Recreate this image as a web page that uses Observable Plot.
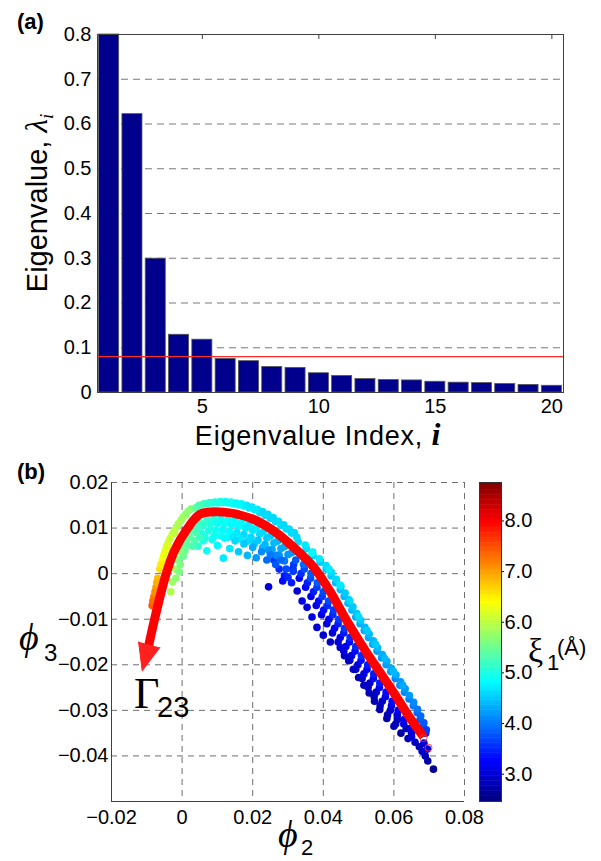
<!DOCTYPE html>
<html>
<head>
<meta charset="utf-8">
<script src="https://cdn.jsdelivr.net/npm/d3@7"></script>
<script src="https://cdn.jsdelivr.net/npm/@observablehq/plot@0.6"></script>
<style>
  html, body { margin: 0; padding: 0; background: #fff; }
  #wrap { position: relative; width: 601px; height: 861px; overflow: hidden; font-family: 'Liberation Sans', Arial, sans-serif; }
  #wrap > svg, #wrap > figure { position: absolute; margin: 0; }
</style>
</head>
<body>
<div id="wrap"></div>
<script>
// ---------- Panel (a): eigenvalue spectrum ----------
const eigIndex = [1, 2, 3, 4, 5, 6, 7, 8, 9, 10, 11, 12, 13, 14, 15, 16, 17, 18, 19, 20];
const eigValue = [0.800, 0.622, 0.299, 0.129, 0.118, 0.075, 0.070, 0.057, 0.055, 0.043,
                  0.037, 0.030, 0.028, 0.027, 0.024, 0.022, 0.021, 0.019, 0.017, 0.015];
const eigCutoff = [0.08];
const eigYTicks = [0, 0.1, 0.2, 0.3, 0.4, 0.5, 0.6, 0.7, 0.8];
const eigYTickLabels = ["0", "0.1", "0.2", "0.3", "0.4", "0.5", "0.6", "0.7", "0.8"];
const eigGrid = [0.1, 0.2, 0.3, 0.4, 0.5, 0.6, 0.7];
const eigXTicks = [5, 10, 15, 20];

// ---------- Panel (b): diffusion-map coordinates ----------
const phi2Ticks = [-0.02, 0, 0.02, 0.04, 0.06, 0.08];
const phi2TickLabels = ["\u22120.02", "0", "0.02", "0.04", "0.06", "0.08"];
const phi3Ticks = [-0.04, -0.03, -0.02, -0.01, 0, 0.01, 0.02];
const phi3TickLabels = ["\u22120.04", "\u22120.03", "\u22120.02", "\u22120.01", "0", "0.01", "0.02"];
const phi2Grid = [0, 0.02, 0.04, 0.06, 0.08];
const phi3Grid = [-0.04, -0.03, -0.02, -0.01, 0, 0.01, 0.02];
const xiTicks = [3, 4, 5, 6, 7, 8];
const xiTickLabels = ["3.0", "4.0", "5.0", "6.0", "7.0", "8.0"];
const xiRange = [2.46, 8.76];

// scatter points [phi2, phi3, xi1]
const innerFar = [
  [0.0326,-0.0038,3.0],[0.0340,-0.0060,3.1],[0.0354,-0.0074,3.0],[0.0368,-0.0095,3.1],[0.0382,-0.0118,3.0],
  [0.0400,-0.0135,3.0],[0.0420,-0.0150,2.9],[0.0448,-0.0162,3.0],[0.0460,-0.0180,2.9],[0.0472,-0.0191,2.9],
  [0.0485,-0.0210,2.9],[0.0500,-0.0228,2.8],[0.0515,-0.0245,2.9],[0.0530,-0.0262,2.8],[0.0545,-0.0280,2.8],
  [0.0560,-0.0298,2.8],[0.0580,-0.0318,2.7],[0.0600,-0.0335,2.8],[0.0620,-0.0350,2.7],[0.0640,-0.0362,2.8]
];
const innerMid2 = [
  [0.0314,0.001,3.3],[0.0332,-0.001,3.2],[0.0350,-0.003,3.2],[0.0365,-0.005,3.1],[0.0380,-0.007,3.1],
  [0.0395,-0.009,3.1],[0.0410,-0.011,3.0],[0.0426,-0.013,3.0],[0.0442,-0.015,3.0],[0.0458,-0.017,3.0],
  [0.0475,-0.019,2.9],[0.0492,-0.021,2.9],[0.0510,-0.023,2.9],[0.0527,-0.025,2.9],[0.0544,-0.027,2.8],
  [0.0561,-0.029,2.8],[0.0582,-0.031,2.8],[0.0605,-0.033,2.8]
];
const innerMid = [
  [0.0316,0.002,3.6],[0.0337,0.000,3.5],[0.0355,-0.002,3.4],[0.0372,-0.004,3.4],[0.0387,-0.006,3.3],
  [0.0401,-0.008,3.3],[0.0416,-0.010,3.2],[0.0432,-0.012,3.2],[0.0448,-0.014,3.1],[0.0464,-0.016,3.1],
  [0.0480,-0.018,3.0],[0.0498,-0.020,3.0],[0.0515,-0.022,3.0],[0.0532,-0.024,2.9],[0.0550,-0.026,2.9],
  [0.0567,-0.028,2.9],[0.0590,-0.030,2.9],[0.0610,-0.032,2.8],[0.0635,-0.034,2.8]
];
const innerNear = [
  [0.0322,0.003,3.8],[0.0346,0.001,3.7],[0.0364,-0.001,3.7],[0.0382,-0.003,3.6],[0.0397,-0.005,3.6],
  [0.0412,-0.007,3.5],[0.0427,-0.009,3.5],[0.0442,-0.011,3.4],[0.0458,-0.013,3.4],[0.0474,-0.015,3.3],
  [0.0490,-0.017,3.3],[0.0507,-0.019,3.3],[0.0524,-0.021,3.2],[0.0542,-0.023,3.2],[0.0559,-0.025,3.2],
  [0.0576,-0.027,3.1],[0.0593,-0.029,3.1],[0.0610,-0.031,3.0],[0.0628,-0.033,3.0],[0.0650,-0.035,3.0]
];
const innerNear2 = [
  [0.0344,0.002,3.9],[0.0365,0.000,3.8],[0.0383,-0.002,3.8],[0.0400,-0.004,3.7],[0.0415,-0.006,3.7],
  [0.0429,-0.008,3.6],[0.0444,-0.010,3.6],[0.0460,-0.012,3.6],[0.0476,-0.014,3.5],[0.0492,-0.016,3.5],
  [0.0508,-0.018,3.5],[0.0526,-0.020,3.4],[0.0543,-0.022,3.4],[0.0560,-0.024,3.4],[0.0578,-0.026,3.3],
  [0.0595,-0.028,3.3],[0.0612,-0.030,3.2],[0.0629,-0.032,3.2],[0.0647,-0.034,3.1]
];
const tailEnd = [
  [0.0660,-0.0370,2.9],[0.0672,-0.0380,2.8],[0.0685,-0.0372,3.0],[0.0689,-0.0400,2.8],[0.0696,-0.0411,2.7],
  [0.0712,-0.0429,2.6],[0.0680,-0.0390,2.9],[0.0695,-0.0385,3.1],[0.0650,-0.0358,3.0]
];
const saddle = [
  [0.0260,0.0030,3.6],[0.0275,0.0010,3.5],[0.0290,-0.0005,3.4],[0.0285,-0.0016,3.3],[0.0310,-0.0020,3.4],
  [0.0315,0.0005,3.6],[0.0245,-0.0029,3.0]
];
const peakInner = [
  [0.0050,0.0112,5.2],[0.0070,0.0118,5.1],[0.0090,0.0120,5.0],[0.0110,0.0120,4.9],[0.0130,0.0119,4.9],
  [0.0150,0.0116,4.8],[0.0170,0.0112,4.8],[0.0190,0.0107,4.7],[0.0210,0.0100,4.7],[0.0230,0.0092,4.6],
  [0.0250,0.0082,4.5],[0.0270,0.0071,4.4],[0.0290,0.0059,4.3],[0.0310,0.0046,4.2],
  [0.0060,0.0106,5.1],[0.0080,0.0109,5.0],[0.0100,0.0110,4.9],[0.0120,0.0110,4.9],[0.0140,0.0108,4.8],
  [0.0160,0.0104,4.8],[0.0180,0.0100,4.7],[0.0200,0.0095,4.7],[0.0220,0.0087,4.6],[0.0240,0.0078,4.5],
  [0.0260,0.0067,4.4],[0.0280,0.0055,4.3],[0.0300,0.0042,4.2],
  [0.0055,0.0088,5.0],[0.0075,0.0094,5.0],[0.0095,0.0095,4.9],[0.0115,0.0096,4.8],[0.0135,0.0093,4.8],
  [0.0155,0.0090,4.7],[0.0175,0.0086,4.6],[0.0195,0.0080,4.6],[0.0215,0.0073,4.5],[0.0235,0.0064,4.4],
  [0.0255,0.0053,4.3],[0.0275,0.0041,4.2],
  [0.0065,0.0080,5.0],[0.0090,0.0082,4.9],[0.0110,0.0083,4.9],[0.0130,0.0080,4.8],[0.0145,0.0080,4.7],
  [0.0165,0.0076,4.7],[0.0185,0.0071,4.6],[0.0205,0.0066,4.5],[0.0228,0.0057,4.4],[0.0245,0.0052,4.2],
  [0.0268,0.0040,4.1],[0.0290,0.0028,4.0],
  [0.0045,0.0060,5.1],[0.0060,0.0072,5.0],[0.0070,0.0050,4.9],[0.0085,0.0075,4.9],[0.0100,0.0062,4.8],
  [0.0117,0.0034,4.7],[0.0120,0.0078,4.8],[0.0135,0.0055,4.7],[0.0150,0.0072,4.6],[0.0160,0.0048,4.5],
  [0.0175,0.0065,4.5],[0.0185,0.0040,4.4],[0.0200,0.0058,4.3],[0.0210,0.0035,4.2],[0.0225,0.0048,4.1],
  [0.0240,0.0030,3.9],[0.0250,0.0042,4.0],[0.0265,0.0020,3.8],[0.0280,0.0030,3.9],[0.0295,0.0010,3.7],
  [0.0300,-0.0008,3.5]
];
const armInner = [
  [-0.0027,-0.0018,5.8],[-0.0020,0.0010,5.8],[-0.0008,0.0004,5.6],[-0.0012,0.0030,5.6],[0.0003,0.0038,5.5],
  [0.0000,0.0058,5.5],[0.0015,0.0062,5.4],[0.0022,0.0080,5.4],[0.0035,0.0072,5.3],[0.0040,0.0090,5.3],
  [0.0050,0.0080,5.2],[-0.0032,-0.0040,5.9],[-0.0018,-0.0010,5.7],[-0.0005,0.0020,5.6],[0.0008,0.0050,5.5],
  [0.0012,0.0072,5.4],[0.0028,0.0095,5.3],[0.0045,0.0100,5.2],[0.0030,0.0060,5.3],[-0.0005,0.0048,5.6]
];
const armOuter = [
  [-0.0085,-0.0070,7.4],[-0.0080,-0.0050,7.2],[-0.0074,-0.0030,7.0],[-0.0069,-0.0010,6.8],[-0.0063,0.0010,6.6],
  [-0.0056,0.0030,6.4],[-0.0048,0.0050,6.2],[-0.0039,0.0068,6.1],[-0.0028,0.0086,6.0],[-0.0016,0.0102,5.9],
  [-0.0003,0.0117,5.8],[0.0010,0.0130,5.7],[0.0025,0.0142,5.6],[-0.0066,-0.0020,6.9],[-0.0053,0.0020,6.5],
  [-0.0040,0.0055,6.3],[-0.0022,0.0090,6.0],
  [-0.0083,-0.0060,7.3],[-0.0077,-0.0040,7.1],[-0.0072,-0.0020,6.9],[-0.0060,0.0020,6.5],[-0.0052,0.0040,6.3],
  [-0.0044,0.0060,6.2],[-0.0034,0.0077,6.1],[-0.0022,0.0094,6.0],[-0.0010,0.0110,5.9],[0.0003,0.0124,5.8],
  [0.0017,0.0137,5.7]
];
const topOuter = [
  [0.0040,0.0145,5.4],[0.0055,0.0151,5.3],[0.0070,0.0153,5.2],[0.0085,0.0155,5.1],[0.0100,0.0155,5.0],
  [0.0115,0.0156,5.0],[0.0130,0.0155,4.9],[0.0145,0.0153,4.9],[0.0160,0.0151,4.8],[0.0175,0.0148,4.8],
  [0.0190,0.0144,4.7],[0.0205,0.0140,4.7],[0.0220,0.0134,4.6],[0.0235,0.0128,4.6],[0.0250,0.0121,4.6],
  [0.0265,0.0114,4.6],[0.0280,0.0106,4.6],[0.0295,0.0098,4.6],[0.0310,0.0089,4.6],[0.0325,0.0080,4.6],
  [0.0048,0.0150,5.3],[0.0063,0.0154,5.2],[0.0078,0.0156,5.1],[0.0093,0.0157,5.0],[0.0108,0.0158,5.0],
  [0.0123,0.0158,4.9],[0.0138,0.0157,4.9],[0.0153,0.0155,4.8],[0.0168,0.0153,4.8],[0.0183,0.0150,4.7],
  [0.0198,0.0146,4.7],[0.0213,0.0141,4.7],[0.0228,0.0136,4.6],[0.0243,0.0130,4.6],[0.0258,0.0123,4.6],
  [0.0273,0.0115,4.6],[0.0288,0.0107,4.6],[0.0303,0.0098,4.6],[0.0318,0.0090,4.6]
];
const rightOuter = [
  [0.0329,0.0070,4.6],[0.0352,0.0055,4.6],[0.0371,0.0040,4.5],[0.0391,0.0025,4.5],[0.0408,0.0010,4.5],
  [0.0422,-0.0005,4.5],[0.0435,-0.0020,4.4],[0.0448,-0.0035,4.4],[0.0459,-0.0050,4.4],[0.0470,-0.0065,4.4],
  [0.0481,-0.0080,4.4],[0.0492,-0.0095,4.3],[0.0504,-0.0110,4.3],[0.0516,-0.0125,4.3],[0.0528,-0.0140,4.3],
  [0.0540,-0.0155,4.3],[0.0552,-0.0170,4.2],[0.0565,-0.0185,4.2],[0.0578,-0.0200,4.2],[0.0591,-0.0215,4.2],
  [0.0604,-0.0230,4.1],[0.0617,-0.0245,4.1],[0.0630,-0.0260,4.1],[0.0643,-0.0275,4.0],[0.0655,-0.0290,4.0],
  [0.0666,-0.0305,3.9],[0.0674,-0.0320,3.8],[0.0682,-0.0335,3.7],[0.0690,-0.0350,3.5]
];
const rightOuter2 = [
  [0.0349,0.00625,4.7],[0.0370,0.00475,4.7],[0.0389,0.00325,4.7],[0.0408,0.00175,4.6],[0.0423,0.00025,4.6],
  [0.0437,-0.00125,4.6],[0.0450,-0.00275,4.6],[0.0462,-0.00425,4.5],[0.0473,-0.00575,4.5],[0.0484,-0.00725,4.5],
  [0.0495,-0.00875,4.5],[0.0506,-0.01025,4.5],[0.0518,-0.01175,4.4],[0.0530,-0.01325,4.4],[0.0542,-0.01475,4.4],
  [0.0554,-0.01625,4.4],[0.0567,-0.01775,4.3],[0.0580,-0.01925,4.3],[0.0593,-0.02075,4.3],[0.0606,-0.02225,4.3],
  [0.0619,-0.02375,4.2],[0.0632,-0.02525,4.2],[0.0644,-0.02675,4.2],[0.0656,-0.02825,4.1],[0.0667,-0.02975,4.0],
  [0.0676,-0.03125,3.9],[0.0685,-0.03275,3.8],[0.0692,-0.03425,3.6]
];
const rightEdge = [
  [0.0368,0.0045,4.8],[0.0416,0.0010,4.7],[0.0447,-0.0025,4.7],[0.0475,-0.0060,4.6],[0.0500,-0.0095,4.6],
  [0.0524,-0.0125,4.5],[0.0548,-0.0155,4.5],[0.0573,-0.0185,4.4],[0.0599,-0.0215,4.4],[0.0625,-0.0245,4.3]
];

// reaction coordinate Gamma_23 (red arrow)
const gammaPhi2 = [0.0684, 0.0640, 0.0600, 0.0560, 0.0519, 0.0467, 0.0420, 0.0373, 0.0320, 0.0259,
                   0.0200, 0.0118, 0.0052, 0.0016, -0.0022, -0.0045, -0.0078, -0.0098];
const gammaPhi3 = [-0.0358, -0.0310, -0.0262, -0.0216, -0.0169, -0.0104, -0.0040, 0.0014, 0.0055, 0.0094,
                   0.0120, 0.0135, 0.0131, 0.0100, 0.0050, 0.0000, -0.0100, -0.0170];
const gammaTipPhi2 = [-0.0113];
const gammaTipPhi3 = [-0.0213];
const endPhi2 = [0.0684, 0.0698];
const endPhi3 = [-0.0361, -0.0382];

// ---------- helpers ----------
const FONT = "'Liberation Sans', Arial, Helvetica, sans-serif";
const SERIF = "'Liberation Serif', 'DejaVu Serif', serif";
const jetStops = ["#00007f", "#0000ff", "#007fff", "#00ffff", "#7fff7f", "#ffff00", "#ff7f00", "#ff0000", "#7f0000"];
const jet = d3.piecewise(d3.interpolateRgb, jetStops);
const colorScale = {type: "linear", domain: xiRange, interpolate: jet};
const labelOf = (ticks, labels) => d => labels[ticks.findIndex(t => Math.abs(t - d) < 1e-9)];
const baseStyle = {fontFamily: FONT, fontSize: "20px", color: "#000", background: "transparent", overflow: "visible"};

const wrap = document.getElementById("wrap");

// ---------- Panel (a) ----------
const bars = eigIndex.map((i, k) => ({i, v: eigValue[k]}));
const plotA = Plot.plot({
  width: 601, height: 460,
  marginLeft: 97, marginRight: 38, marginTop: 34, marginBottom: 68,
  style: baseStyle,
  x: {domain: [0.5, 20.5]},
  y: {domain: [0, 0.8]},
  marks: [
    Plot.ruleY(eigGrid, {stroke: "#7a7a7a", strokeWidth: 1, strokeDasharray: "7,5"}),
    Plot.rect(bars, {x1: d => d.i - 0.43, x2: d => d.i + 0.43, y1: 0, y2: "v",
                     fill: "#00008c", stroke: "#555", strokeWidth: 0.8}),
    Plot.ruleY(eigCutoff, {stroke: "#ff2a2a", strokeWidth: 1.3}),
    Plot.frame({stroke: "#404040"}),
    Plot.axisY({ticks: eigYTicks, tickFormat: labelOf(eigYTicks, eigYTickLabels), tickSize: 0, tickPadding: 6, label: null}),
    Plot.axisX({ticks: eigXTicks, tickSize: 0, tickPadding: 6, label: null}),
    Plot.axisX({anchor: "top", ticks: eigXTicks, tickSize: -4, tickFormat: () => "", label: null, stroke: "#404040"})
  ]
});
plotA.style.left = "0px"; plotA.style.top = "0px";
wrap.appendChild(plotA);

// ---------- Panel (b) ----------
const points = [...innerFar, ...innerMid2, ...innerMid, ...tailEnd, ...saddle, ...innerNear, ...innerNear2,
                ...peakInner, ...armInner, ...armOuter, ...topOuter, ...rightOuter, ...rightOuter2, ...rightEdge];
const gamma = gammaPhi2.map((x, k) => ({x, y: gammaPhi3[k]}));
const gammaTip = gammaTipPhi2.map((x, k) => ({x, y: gammaTipPhi3[k]}));
const ends = endPhi2.map((x, k) => ({x, y: endPhi3[k]}));

const plotB = Plot.plot({
  width: 601, height: 401,
  marginLeft: 111, marginRight: 137, marginTop: 22, marginBottom: 60,
  style: baseStyle,
  x: {domain: [-0.02, 0.08]},
  y: {domain: [-0.05, 0.02]},
  color: colorScale,
  marks: [
    Plot.ruleX(phi2Grid, {stroke: "#6e6e6e", strokeWidth: 1, strokeDasharray: "6,5"}),
    Plot.ruleY(phi3Grid, {stroke: "#6e6e6e", strokeWidth: 1, strokeDasharray: "6,5"}),
    Plot.ruleX([-0.02], {stroke: "#404040"}),
    Plot.ruleY([-0.05], {stroke: "#404040"}),
    Plot.dot(points, {x: d => d[0], y: d => d[1], fill: d => d[2], r: 3.8}),
    Plot.line(gamma, {x: "x", y: "y", stroke: "#ff0000", strokeWidth: 9, curve: "catmull-rom", strokeLinecap: "butt"}),
    Plot.vector(gammaTip, {x: "x", y: "y", rotate: 195, length: 27, r: 11, shape: "spike", anchor: "end",
                           fill: "#ff2020", stroke: "#ff2020", strokeWidth: 1}),
    Plot.dot(ends, {x: "x", y: "y", r: 3.5, stroke: "#ff3030", fill: "none", strokeWidth: 0.9}),
    Plot.axisY({ticks: phi3Ticks, tickFormat: labelOf(phi3Ticks, phi3TickLabels), tickSize: 0, tickPadding: 3, label: null}),
    Plot.axisX({ticks: phi2Ticks, tickFormat: labelOf(phi2Ticks, phi2TickLabels), tickSize: 0, tickPadding: 8, label: null})
  ]
});
plotB.style.left = "0px"; plotB.style.top = "460px";
wrap.appendChild(plotB);

// ---------- Colour bar for xi_1 ----------
const rampStep = 0.05;
const ramp = d3.range(xiRange[0], xiRange[1], rampStep).map(v => ({
  y1: v, y2: Math.min(v + rampStep * 1.2, xiRange[1]), c: v + rampStep / 2
}));
const plotC = Plot.plot({
  width: 80, height: 339,
  marginLeft: 0, marginRight: 58, marginTop: 10, marginBottom: 10,
  style: baseStyle,
  x: {domain: [0, 1], axis: null},
  y: {domain: xiRange},
  color: colorScale,
  marks: [
    Plot.rect(ramp, {x1: 0, x2: 1, y1: "y1", y2: "y2", fill: "c"}),
    Plot.frame({stroke: "#333"}),
    Plot.axisY({anchor: "right", ticks: xiTicks, tickFormat: labelOf(xiTicks, xiTickLabels), tickSize: 2, tickPadding: 1, label: null})
  ]
});
plotC.style.left = "479px"; plotC.style.top = "472px";
wrap.appendChild(plotC);

// ---------- Titles and labels ----------
const NS = "http://www.w3.org/2000/svg";
const overlay = document.createElementNS(NS, "svg");
overlay.setAttribute("width", 601); overlay.setAttribute("height", 861);
overlay.style.left = "0px"; overlay.style.top = "0px"; overlay.style.pointerEvents = "none";
overlay.innerHTML = `
  <g font-family="${FONT}" fill="#000">
    <text x="17" y="29" font-size="22" font-weight="bold">(a)</text>
    <text transform="translate(47,203) rotate(-90)" text-anchor="middle" font-size="29">Eigenvalue, <tspan font-family="${SERIF}" font-style="italic" font-size="31">\u03bb</tspan><tspan font-family="${SERIF}" font-style="italic" font-size="19" dy="6">i</tspan></text>
    <text x="318" y="445" text-anchor="middle" font-size="27" letter-spacing="0.8">Eigenvalue Index, <tspan font-family="${SERIF}" font-weight="bold" font-style="italic" font-size="32">i</tspan></text>
    <text x="17" y="479" font-size="22" font-weight="bold">(b)</text>
    <text x="19" y="650" font-family="${SERIF}" font-style="italic" font-size="38">\u03d5</text>
    <text x="44" y="661" font-size="24">3</text>
    <text x="278" y="847" font-family="${SERIF}" font-style="italic" font-size="38">\u03d5</text>
    <text x="301" y="855" font-size="22">2</text>
    <text x="134" y="708" font-family="${SERIF}" font-size="44">\u0393</text>
    <text x="157" y="717" font-size="29">23</text>
    <text x="528" y="662" font-family="${SERIF}" font-size="34">\u03be</text>
    <text x="547" y="670" font-size="22">1</text>
    <text x="557" y="655" font-size="22">(\u00c5)</text>
  </g>`;
wrap.appendChild(overlay);
</script>
</body>
</html>
